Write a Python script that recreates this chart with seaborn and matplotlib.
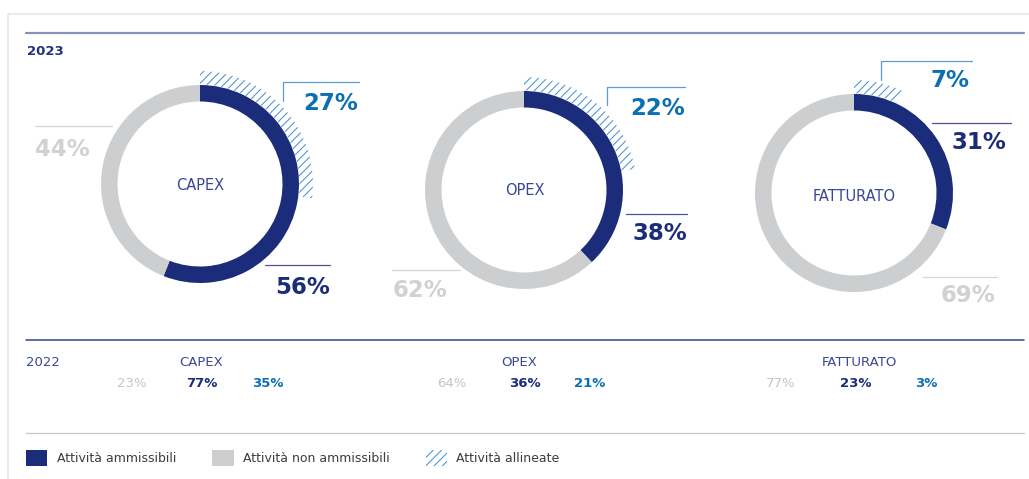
import matplotlib
matplotlib.use('Agg')
import matplotlib.pyplot as plt
from matplotlib.patches import Patch
import seaborn as sns

# ---------------- data ----------------
categories = ['CAPEX', 'OPEX', 'FATTURATO']
eligible_2023 = [56, 38, 31]          # Attività ammissibili
non_eligible_2023 = [44, 62, 69]      # Attività non ammissibili
aligned_2023 = [27, 22, 7]            # Attività allineate
non_eligible_2022 = [23, 64, 77]
eligible_2022 = [77, 36, 23]
aligned_2022 = [35, 21, 3]
legend_labels = ['Attività ammissibili', 'Attività non ammissibili', 'Attività allineate']
year_current = '2023'
year_previous = '2022'

# ---------------- style ----------------
NAVY = '#1b2c7a'
GRAY = '#cdcecf'
BLUE = '#0b6fb3'
HATCH = '#4a93cf'
LABEL_GRAY = '#d0d1d2'
TEXT_NAVY = '#3a4796'
BRACKET = '#5b9dd2'
NAVY_LINE = '#4a5592'
GRAY_LINE = '#d6d6d6'

sns.set_theme(style='white')
plt.rcParams['font.family'] = ['DejaVu Sans']
plt.rcParams['hatch.linewidth'] = 0.75

W, H = 1029, 479
fig = plt.figure(figsize=(W / 100, H / 100), dpi=100)
ax = fig.add_axes([0, 0, 1, 1])


def Y(y):
    return H - y


# ---------------- layout ----------------
centers = [(200, 184), (524, 190), (854, 193)]
R_RING, W_RING = 99, 16.5
R_HATCH, W_HATCH = 113, 13.5

# label layout: (x, baseline y, ha) and guide lines
lay_aligned = [(358, 110, 'right'), (685, 115, 'right'), (969, 87, 'right')]
lay_eligible = [(330, 294, 'right'), (687, 240, 'right'), (1006, 149, 'right')]
lay_non = [(35, 156, 'left'), (393, 297, 'left'), (995, 302, 'right')]
bracket_aligned = [((283, 359), 82, 101), ((607, 685), 87, 105), ((881, 972), 61, 80)]
line_eligible = [((265, 330), 265), ((626, 687), 214), ((932, 1011), 123)]
line_non = [((35, 112), 126), ((392, 460), 270), ((923, 997), 277)]
center_label_pos = [(200, 185), (525, 190), (854, 196)]

head22_x = [201, 519, 859]
vals22_x = [(132, 202, 268), (452, 525, 590), (781, 856, 926)]

BIG = 16.5

for i, cat in enumerate(categories):
    cx, cy = centers[i]
    ax.pie([eligible_2023[i], non_eligible_2023[i]], colors=[NAVY, GRAY],
           startangle=90, counterclock=False, radius=R_RING,
           center=(cx, Y(cy)), frame=True,
           wedgeprops=dict(width=W_RING, linewidth=0))
    hw, _ = ax.pie([aligned_2023[i] / 100], normalize=False, colors=['none'],
                   startangle=90, counterclock=False, radius=R_HATCH,
                   center=(cx, Y(cy)), frame=True, hatch=['////'],
                   wedgeprops=dict(width=W_HATCH, linewidth=0, edgecolor=HATCH))
    for w in hw:
        w.set_facecolor('none')
        w.set_edgecolor(HATCH)
        w.set_linewidth(0)

    # centre label
    lx, ly = center_label_pos[i]
    ax.text(lx, Y(ly), cat, ha='center', va='center', fontsize=10.5,
            color=TEXT_NAVY)

    # aligned label + bracket
    (x0, x1), yb, ye = bracket_aligned[i]
    ax.plot([x0, x0, x1], [Y(ye), Y(yb), Y(yb)], color=BRACKET, lw=0.9)
    tx, ty, ha = lay_aligned[i]
    ax.text(tx, Y(ty), f'{aligned_2023[i]}%', ha=ha, va='baseline',
            fontsize=BIG, fontweight='bold', color=BLUE)

    # eligible label
    (x0, x1), yl = line_eligible[i]
    ax.plot([x0, x1], [Y(yl), Y(yl)], color=NAVY_LINE, lw=0.9)
    tx, ty, ha = lay_eligible[i]
    ax.text(tx, Y(ty), f'{eligible_2023[i]}%', ha=ha, va='baseline',
            fontsize=BIG, fontweight='bold', color=NAVY)

    # non-eligible label
    (x0, x1), yl = line_non[i]
    ax.plot([x0, x1], [Y(yl), Y(yl)], color=GRAY_LINE, lw=0.9)
    tx, ty, ha = lay_non[i]
    ax.text(tx, Y(ty), f'{non_eligible_2023[i]}%', ha=ha, va='baseline',
            fontsize=BIG, fontweight='bold', color=LABEL_GRAY)

    # 2022 row
    ax.text(head22_x[i], Y(366), cat, ha='center', va='baseline',
            fontsize=9.5, color=TEXT_NAVY)
    xa, xb, xc = vals22_x[i]
    ax.text(xa, Y(387), f'{non_eligible_2022[i]}%', ha='center', va='baseline',
            fontsize=9.5, color='#c4c5c6')
    ax.text(xb, Y(387), f'{eligible_2022[i]}%', ha='center', va='baseline',
            fontsize=9.5, fontweight='bold', color=NAVY)
    ax.text(xc, Y(387), f'{aligned_2022[i]}%', ha='center', va='baseline',
            fontsize=9.5, fontweight='bold', color=BLUE)

# frame and section lines
ax.plot([8, W], [Y(14), Y(14)], color='#e6e6e6', lw=1.2)
ax.plot([8, 8], [Y(14), 0], color='#e6e6e6', lw=1.2)
ax.plot([26, 1024], [Y(33), Y(33)], color='#8a91b9', lw=1.6)
ax.plot([26, 1024], [Y(340), Y(340)], color='#34438f', lw=1.1)
ax.plot([26, 1024], [Y(433), Y(433)], color='#c6c6c6', lw=0.9)

ax.text(27, Y(55), year_current, ha='left', va='baseline', fontsize=9.5,
        fontweight='bold', color='#22327d')
ax.text(26, Y(366), year_previous, ha='left', va='baseline', fontsize=9.5,
        color=TEXT_NAVY)

handles = [Patch(facecolor=NAVY, edgecolor='none', linewidth=0),
           Patch(facecolor=GRAY, edgecolor='none', linewidth=0),
           Patch(facecolor='white', edgecolor=HATCH, hatch='////', linewidth=0)]
leg = ax.legend(handles, legend_labels, ncol=3, loc='center left',
                bbox_to_anchor=(26, Y(458)), bbox_transform=ax.transData,
                frameon=False, fontsize=9, handlelength=1.7, handleheight=1.6,
                handletextpad=0.75, columnspacing=2.9, borderpad=0,
                borderaxespad=0, labelcolor='#3c3c3c')

ax.set_xlim(0, W)
ax.set_ylim(0, H)
ax.set_aspect('auto')
ax.axis('off')

fig.savefig('out.png', dpi=100, facecolor='white')
